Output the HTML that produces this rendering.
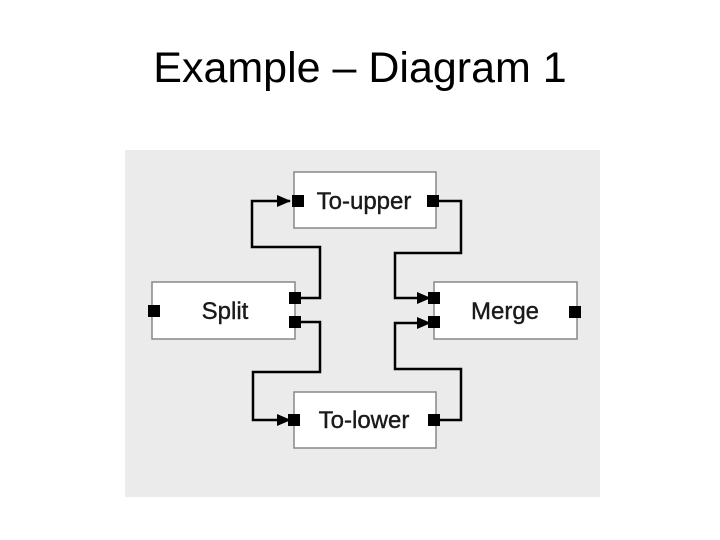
<!DOCTYPE html>
<html><head><style>
body{margin:0;width:720px;height:540px;background:#fff;position:relative;overflow:hidden;font-family:"Liberation Sans",sans-serif}
.t{position:absolute;left:0;width:720px;top:44px;text-align:center;font-size:43px;color:#000}
</style></head><body>
<div class="t">Example – Diagram 1</div>
<svg style="position:absolute;left:0;top:0" width="720" height="540">
<defs>
<marker id="b" markerWidth="14" markerHeight="12" refX="13" refY="6" orient="auto" markerUnits="userSpaceOnUse"><path d="M0,0L14,6L0,12z" fill="#000"/></marker></defs>
<rect x="125" y="150" width="475" height="347" fill="#ebebeb"/>
<g fill="#fff" stroke="#888" stroke-width="1.5">
<rect x="294" y="172" width="142" height="56"/>
<rect x="152" y="282" width="143" height="57"/>
<rect x="434" y="282" width="143" height="57"/>
<rect x="294" y="392" width="142" height="56"/>
</g>
<g fill="none" stroke="#000" stroke-width="2.5">
<polyline points="295,298 320,298 320,247 252,247 252,201 290,201" marker-end="url(#b)"/>
<polyline points="295,322 320,322 320,372 253,372 253,420 290,420" marker-end="url(#b)"/>
<polyline points="433,201 461,201 461,253 395,253 395,298 430,298" marker-end="url(#b)"/>
<polyline points="433,420 461,420 461,369 395,369 395,323 430,323" marker-end="url(#b)"/>
</g>
<g fill="#000">
<rect x="292" y="195" width="12" height="12"/>
<rect x="427" y="195" width="12" height="12"/>
<rect x="148" y="305" width="12" height="12"/>
<rect x="289" y="292" width="12" height="12"/>
<rect x="289" y="316" width="12" height="12"/>
<rect x="428" y="292" width="12" height="12"/>
<rect x="428" y="316" width="12" height="12"/>
<rect x="569" y="306" width="12" height="12"/>
<rect x="288" y="414" width="12" height="12"/>
<rect x="428" y="414" width="12" height="12"/>
</g>
<g font-family="Liberation Sans, sans-serif" font-size="24" fill="#1a1a1a" stroke="#1a1a1a" stroke-width="0.4" text-anchor="middle">
<text x="364" y="209">To-upper</text>
<text x="225" y="319">Split</text>
<text x="505" y="319">Merge</text>
<text x="364" y="428">To-lower</text>
</g>
</svg>
</body></html>
